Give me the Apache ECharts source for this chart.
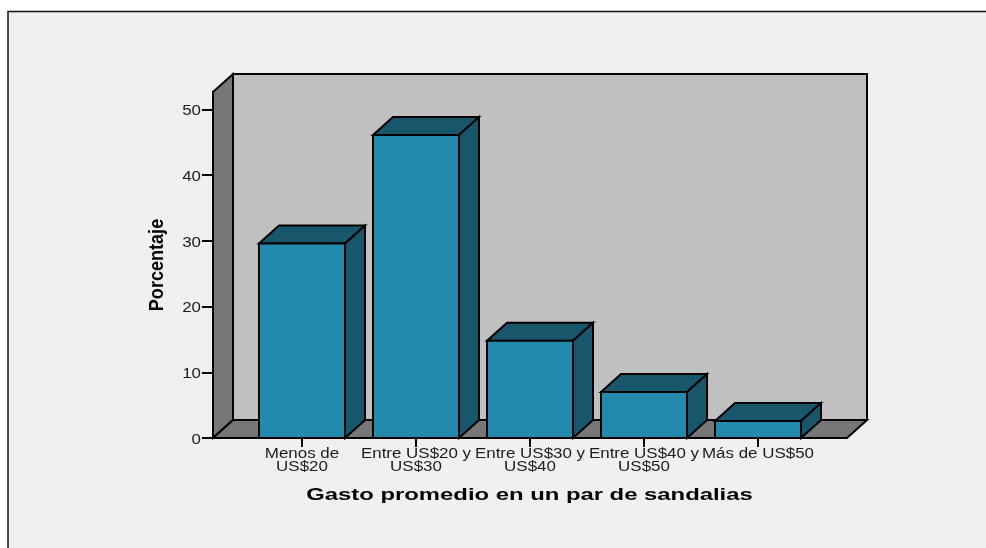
<!DOCTYPE html>
<html>
<head>
<meta charset="utf-8">
<script src="https://cdn.jsdelivr.net/npm/echarts@6/dist/echarts.min.js"></script>
<style>
  html, body { margin: 0; padding: 0; background: #fff; }
  #main { width: 986px; height: 548px; }
</style>
</head>
<body>
<div id="main"></div>
<script>
const categories = ["Menos de\nUS$20", "Entre US$20 y\nUS$30", "Entre US$30 y\nUS$40", "Entre US$40 y\nUS$50", "Más de US$50"];
const barValues = [29.6, 46.1, 14.8, 7.0, 2.6];
const yTicks = [0, 10, 20, 30, 40, 50];
const xName = "Gasto promedio en un par de sandalias";
const yName = "Porcentaje";

const DX = 20; // profundidad 3d
const DY = 18;
const BAR_WIDTH = 86;
const FONT = "Liberation Sans";

const black = { stroke: "#000", lineWidth: 2, lineJoin: "miter" };

function poly(points, fill) {
  return { type: "polygon", shape: { points: points }, style: Object.assign({ fill: fill }, black) };
}

// paredes y piso
function renderWalls(params, api) {
  const cs = params.coordSys;
  const l = cs.x - 32;
  const r = cs.x + cs.width + 32;
  const t = cs.y;
  const b = cs.y + cs.height;
  return {
    type: "group",
    children: [
      poly([[l + DX, t - DY], [r + DX, t - DY], [r + DX, b - DY], [l + DX, b - DY]], "#c0c0c0"),
      poly([[l, t], [l + DX, t - DY], [l + DX, b - DY], [l, b]], "#777777"),
      poly([[l, b], [l + DX, b - DY], [r + DX, b - DY], [r, b]], "#777777"),
    ],
  };
}

function renderBar(params, api) {
  const top = api.coord([api.value(0), api.value(1)]);
  const base = api.coord([api.value(0), 0]);
  const x0 = top[0] - BAR_WIDTH / 2;
  const x1 = top[0] + BAR_WIDTH / 2;
  return {
    type: "group",
    children: [
      poly([[x0, top[1]], [x0 + DX, top[1] - DY], [x1 + DX, top[1] - DY], [x1, top[1]]], "#17566b"),
      poly([[x1, top[1]], [x1 + DX, top[1] - DY], [x1 + DX, base[1] - DY], [x1, base[1]]], "#17566b"),
      poly([[x0, top[1]], [x1, top[1]], [x1, base[1]], [x0, base[1]]], "#2389ad"),
    ],
  };
}

// el texto del original esta estirado a lo ancho, por eso va con scaleX
function stretched(text, x, y, align, verticalAlign) {
  return {
    type: "text",
    x: x,
    y: y,
    scaleX: 1.21,
    style: {
      text: text,
      fill: "#1c1c1c",
      font: "14px '" + FONT + "'",
      lineHeight: 13,
      align: align,
      verticalAlign: verticalAlign,
    },
  };
}

function renderXLabel(params, api) {
  const p = api.coord([api.value(0), 0]);
  return stretched(categories[params.dataIndex], p[0], p[1] + 10, "center", "top");
}

function renderYLabel(params, api) {
  const p = api.coord([0, api.value(1)]);
  return stretched(String(yTicks[params.dataIndex]), params.coordSys.x - 44, p[1] + 2, "right", "middle");
}

function renderNames(params, api) {
  const cs = params.coordSys;
  return {
    type: "group",
    children: [
      {
        type: "text",
        x: cs.x + cs.width / 2 - 0.5,
        y: 496,
        scaleX: 1.49,
        style: { text: xName, fill: "#000", font: "bold 16px '" + FONT + "'", align: "center", verticalAlign: "middle" },
      },
      {
        type: "text",
        x: 157,
        y: 265,
        rotation: Math.PI / 2,
        scaleX: 0.86,
        style: { text: yName, fill: "#000", font: "bold 21px '" + FONT + "'", align: "center", verticalAlign: "middle" },
      },
    ],
  };
}

const myChart = echarts.init(document.getElementById("main"));

const option = {
  animation: false,
  backgroundColor: "#fff",
  graphic: [
    {
      type: "rect",
      z: -10,
      shape: { x: 8, y: 11.5, width: 990, height: 550 },
      style: { fill: "#f0f0f0", stroke: "#111", lineWidth: 1.5 },
    },
  ],
  grid: { left: 245, right: 171, top: 92, bottom: 110 },
  xAxis: {
    type: "category",
    data: categories,
    axisLine: { show: false },
    axisTick: { show: true, alignWithLabel: true, length: 9, lineStyle: { color: "#000", width: 2 } },
    axisLabel: { show: false },
    splitLine: { show: false },
  },
  yAxis: {
    type: "value",
    min: 0,
    max: 52.66,
    offset: 32,
    axisLine: { show: true, lineStyle: { color: "#000", width: 2 } },
    axisTick: { show: true, length: 11, customValues: yTicks, lineStyle: { color: "#000", width: 2 } },
    axisLabel: { show: false },
    splitLine: { show: false },
  },
  series: [
    { type: "custom", silent: true, clip: false, z: 1, renderItem: renderWalls, data: [[0, 0]], encode: { x: 0, y: 1 } },
    {
      type: "custom",
      silent: true,
      clip: false,
      z: 2,
      renderItem: renderBar,
      data: barValues.map((v, i) => [i, v]),
      encode: { x: 0, y: 1 },
    },
    {
      type: "custom",
      silent: true,
      clip: false,
      z: 3,
      renderItem: renderXLabel,
      data: categories.map((c, i) => [i, 0]),
      encode: { x: 0, y: 1 },
    },
    {
      type: "custom",
      silent: true,
      clip: false,
      z: 3,
      renderItem: renderYLabel,
      data: yTicks.map((v) => [0, v]),
      encode: { x: 0, y: 1 },
    },
    { type: "custom", silent: true, clip: false, z: 3, renderItem: renderNames, data: [[0, 0]], encode: { x: 0, y: 1 } },
  ],
};

myChart.setOption(option);
</script>
</body>
</html>
